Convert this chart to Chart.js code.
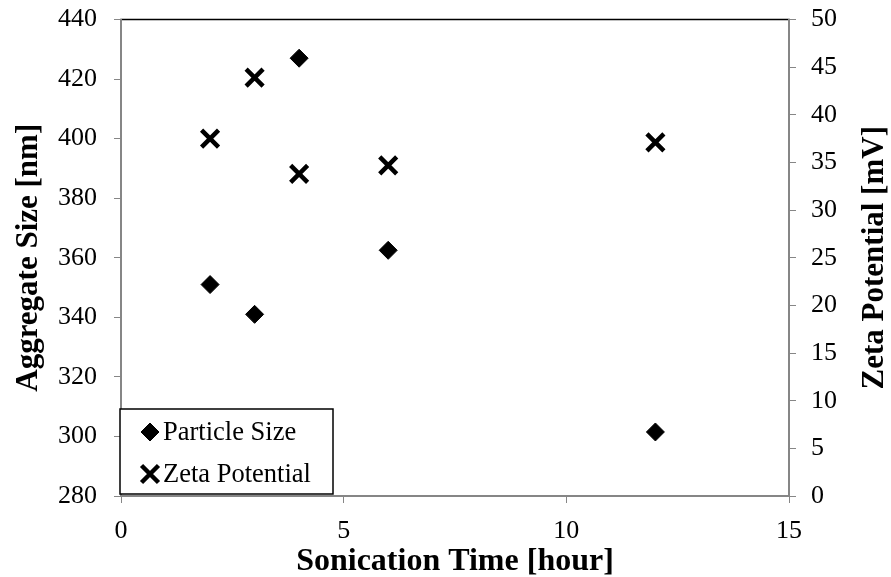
<!DOCTYPE html>
<html>
<head>
<meta charset="utf-8">
<script src="https://cdn.jsdelivr.net/npm/chart.js@4"></script>
<style>
  html, body { margin: 0; padding: 0; background: #fff; }
  #wrap { width: 891px; height: 577px; }
</style>
</head>
<body>
<div id="wrap"><canvas id="sonication-chart"></canvas></div>
<script>
// sonication time (hour)
const hours = [2, 3, 4, 6, 12];
// aggregate size (nm), left axis
const particleSize = [351, 341, 427, 362.5, 301.5];
// zeta potential (mV), right axis
const zetaPotential = [37.5, 43.9, 33.8, 34.7, 37.1];

const serif = "'Liberation Serif', 'Times New Roman', serif";
const axisGray = "#868686";

// black frame around the plot area, axes are drawn over it
const plotFrame = {
    id: "plotFrame",
    beforeDraw(chart){
        const a = chart.chartArea, ctx = chart.ctx;
        ctx.save();
        ctx.strokeStyle = "#000";
        ctx.lineWidth = 1.5;
        ctx.strokeRect(a.left, a.top, a.right - a.left, a.bottom - a.top);
        ctx.restore();
    }
};

// right axis title, reads bottom to top like the left one
const rightTitle = {
    id: "rightTitle",
    afterDraw(chart){
        const ctx = chart.ctx, a = chart.chartArea;
        ctx.save();
        ctx.translate(875, (a.top + a.bottom) / 2);
        ctx.rotate(-Math.PI / 2);
        ctx.font = "bold 31px " + serif;
        ctx.fillStyle = "#000";
        ctx.textAlign = "center";
        ctx.textBaseline = "middle";
        ctx.fillText("Zeta Potential [mV]", 0, 0);
        ctx.restore();
    }
};

// boxed legend sitting in the lower left corner of the plot
const boxLegend = {
    id: "boxLegend",
    afterDraw(chart){
        const ctx = chart.ctx, a = chart.chartArea;
        const x = a.left - 1, y = 409, w = 213, h = 85;
        ctx.save();
        ctx.fillStyle = "#fff";
        ctx.fillRect(x, y, w, h);
        ctx.strokeStyle = "#000";
        ctx.lineWidth = 1.5;
        ctx.strokeRect(x, y, w, h);
        ctx.font = "26.5px " + serif;
        ctx.textBaseline = "middle";
        chart.data.datasets.forEach((ds, i) => {
            const cy = y + 23 + i * 42;
            ctx.fillStyle = "#000";
            ctx.strokeStyle = "#000";
            ctx.lineWidth = ds.borderWidth;
            Chart.helpers.drawPoint(ctx, {
                pointStyle: ds.pointStyle,
                radius: ds.pointRadius,
                borderWidth: ds.borderWidth
            }, x + 30, cy);
            ctx.fillText(ds.label, x + 43, cy + 1);
        });
        ctx.restore();
    }
};

const sizeData = hours.map((h, i) => ({ x: h, y: particleSize[i] }));
const zetaData = hours.map((h, i) => ({ x: h, y: zetaPotential[i] }));

// keep the plot box fixed, labels may overhang it
function fixY(width){
    return s => { s.width = width; s.paddingTop = 0; s.paddingBottom = 0; };
}

new Chart(document.getElementById("sonication-chart"), {
    type: "scatter",
    data: {
        datasets: [
            {
                label: "Particle Size",
                data: sizeData,
                yAxisID: "y",
                pointStyle: "rectRot",
                pointRadius: 9,
                pointHoverRadius: 9,
                backgroundColor: "#000",
                borderColor: "#000",
                borderWidth: 1
            },
            {
                label: "Zeta Potential",
                data: zetaData,
                yAxisID: "y1",
                pointStyle: "crossRot",
                pointRadius: 12,
                pointHoverRadius: 12,
                backgroundColor: "#000",
                borderColor: "#000",
                borderWidth: 4.5
            }
        ]
    },
    options: {
        responsive: true,
        maintainAspectRatio: false,
        animation: false,
        layout: { padding: { top: 19.5, left: 0, right: 0, bottom: 0 } },
        plugins: {
            legend: { display: false },
            tooltip: { enabled: false }
        },
        scales: {
            x: {
                type: "linear",
                min: 0, max: 15,
                ticks: { stepSize: 5, color: "#000", padding: 13, font: { family: serif, size: 26 } },
                grid: { drawOnChartArea: false, tickLength: 7, color: axisGray },
                border: { color: axisGray, width: 2 },
                title: {
                    display: true, text: "Sonication Time [hour]", color: "#000",
                    font: { family: serif, size: 32, weight: "bold", lineHeight: 1.2 },
                    padding: { top: -4, bottom: -4 }
                },
                afterFit(s){ s.height = 81; s.paddingLeft = 0; s.paddingRight = 0; }
            },
            y: {
                position: "left",
                min: 280, max: 440,
                ticks: { stepSize: 20, color: "#000", padding: 17, font: { family: serif, size: 26 } },
                grid: { drawOnChartArea: false, tickLength: 7, color: axisGray },
                border: { color: axisGray, width: 2 },
                title: {
                    display: true, text: "Aggregate Size [nm]", color: "#000",
                    font: { family: serif, size: 31, weight: "bold", lineHeight: 1.2 },
                    padding: { top: 10, bottom: 0 }
                },
                afterFit: fixY(121)
            },
            y1: {
                position: "right",
                min: 0, max: 50,
                ticks: { stepSize: 5, color: "#000", padding: 15, font: { family: serif, size: 26 } },
                grid: { drawOnChartArea: false, tickLength: 7, color: axisGray },
                border: { color: axisGray, width: 2 },
                afterFit: fixY(102)
            }
        }
    },
    plugins: [plotFrame, rightTitle, boxLegend]
});
</script>
</body>
</html>
